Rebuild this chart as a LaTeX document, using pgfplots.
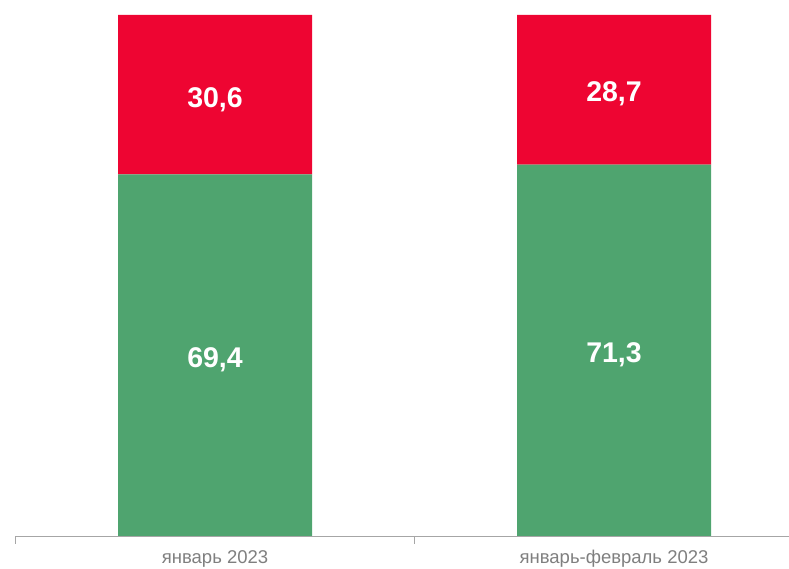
\documentclass[border=0pt]{standalone}
\usepackage{pgfplots}
\pgfplotsset{compat=1.18}
\usepackage{fontspec}
\setmainfont{Liberation Sans}
\definecolor{redc}{HTML}{EE0532}
\definecolor{greenc}{HTML}{4FA46F}
\definecolor{axisgray}{HTML}{A6A6A6}
\definecolor{labgray}{HTML}{7F7F7F}
\begin{document}
\begin{tikzpicture}[x=1pt,y=1pt]
\useasboundingbox (0,0) rectangle (789,569);
\begin{axis}[
  at={(15.5pt,33pt)}, anchor=south west,
  scale only axis, width=773.5pt, height=521pt,
  xmin=-0.5, xmax=1.4386, ymin=0, ymax=100,
  ybar stacked, bar width=194pt,
  axis x line=bottom, axis y line=none,
  x axis line style={-, draw=axisgray, line width=0.8pt},
  xtick={0,1},
  xticklabels={январь 2023, январь-февраль 2023},
  major tick length=0pt,
  extra x ticks={-0.5,0.5},
  extra x tick labels={},
  extra x tick style={major tick length=8pt, tick align=outside, tick style={draw=axisgray, line width=0.8pt}},
  x tick label style={font=\fontsize{18.5}{18.5}\selectfont, text=labgray, yshift=-11pt},
  clip=false,
]
\addplot[fill=greenc, draw=none] coordinates {(0,69.4) (1,71.3)};
\addplot[fill=redc, draw=none] coordinates {(0,30.6) (1,28.7)};
\coordinate (g0) at (axis cs:0,34.3);
\coordinate (g1) at (axis cs:1,35.3);
\coordinate (r0) at (axis cs:0,84.3);
\coordinate (r1) at (axis cs:1,85.3);
\end{axis}
\tikzset{lab/.style={font=\fontsize{28.5}{28.5}\selectfont\bfseries, text=white, yshift=-2.5pt}}
\node[lab] at (g0) {69,4};
\node[lab] at (g1) {71,3};
\node[lab] at (r0) {30,6};
\node[lab] at (r1) {28,7};
\end{tikzpicture}
\end{document}
